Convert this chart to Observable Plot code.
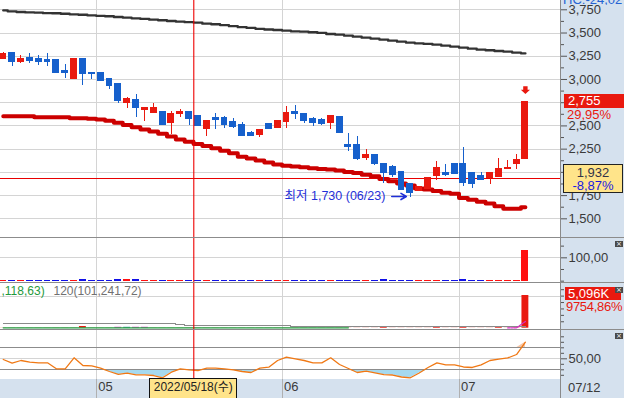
<!DOCTYPE html>
<html lang="ko">
<head>
<meta charset="utf-8">
<script src="https://cdn.jsdelivr.net/npm/d3@7"></script>
<script src="https://cdn.jsdelivr.net/npm/@observablehq/plot@0.6"></script>
<style>
html,body{margin:0;padding:0;background:#fff;}
#chart{position:relative;width:624px;height:398px;overflow:hidden;background:#fff;font-family:"Liberation Sans",Arial,sans-serif;}
.pane{position:absolute;left:0;}
.abs{position:absolute;white-space:nowrap;line-height:1;}
.xbtn{position:absolute;left:615px;width:8px;height:6px;background:#4a4a4a;color:#fff;font-size:7px;line-height:6px;text-align:center;font-family:"DejaVu Sans",sans-serif;}
</style>
</head>
<body>
<div id="chart"></div>
<script>
// ---------------- data (index 0 = 2022-05-02, first visible candle = index -11) ----------------
const startIndex = -11;
const open  = [3225,3280,3190,3235,3225,3205,3205,3095,3010,3215,3065, 3065,3000,2955,2745,2775,2670,2635,2645,2535,2625, 2655,2605,2470,2580,2580,2540,2505,2420,2400,2525, 2475,2540,2645,2625,2570,2560,2530,2595,2290,2290, 2150,2185,2095,2055,2000,1870,1795,1825,1965,1990, 2095,2085,1990,1965,1935,1955,2035,2085,2140];
const high  = [3285,3280,3255,3280,3255,3280,3205,3160,3230,3215,3065, 3065,3000,2955,2810,2835,2690,2745,2645,2655,2680, 2655,2615,2555,2635,2605,2580,2540,2440,2465,2530, 2555,2710,2720,2635,2595,2585,2605,2595,2420,2390, 2250,2185,2095,2075,2000,1870,1845,1945,2115,2085, 2095,2270,1990,1995,1990,2150,2125,2195,2755];
const low   = [3210,3140,3175,3175,3150,3140,3075,3010,3010,2935,3000, 2980,2895,2745,2690,2595,2550,2635,2505,2405,2595, 2505,2495,2390,2465,2475,2475,2390,2390,2375,2465, 2475,2475,2570,2530,2495,2500,2465,2420,2225,2125, 2125,2075,1880,1945,1805,1730,1795,1825,1910,1960, 1980,1845,1825,1910,1870,1955,2035,2035,2140];
const close = [3275,3190,3225,3195,3190,3190,3075,3075,3215,3055,3055, 2980,2935,2765,2795,2690,2690,2690,2505,2625,2645, 2570,2495,2555,2560,2515,2485,2390,2390,2455,2465, 2550,2640,2630,2550,2530,2520,2605,2420,2270,2140, 2185,2095,1990,1970,1805,1780,1845,1935,2050,1975, 1980,1890,1880,1920,1990,2040,2050,2130,2755];
// price moving averages
const maLong  = [3744,3733,3727,3722,3720,3714,3712,3707,3701,3696,3690, 3685,3680,3673,3666,3658,3652,3644,3637,3630,3623, 3617,3612,3601,3594,3585,3574,3563,3555,3545,3538, 3533,3526,3518,3515,3508,3501,3490,3483,3472,3461, 3450,3440,3429,3418,3407,3397,3389,3383,3375,3364, 3354,3343,3332,3321,3314,3307,3300,3289,3281];
const maMid   = [2603,2603,2603,2603,2593,2593,2593,2593,2582,2582,2578, 2568,2557,2535,2511,2485,2462,2440,2415,2385,2355, 2330,2305,2285,2260,2232,2205,2168,2148,2128,2105, 2085,2070,2063,2055,2045,2037,2030,2020,2005,1992, 1975,1958,1930,1905,1880,1858,1826,1815,1800,1780, 1770,1725,1705,1685,1665,1635,1608,1608,1624];
// upper sub-panel indicator
const indicator = [4,4,4,4,4,4,4,4,4,9,4, 4,4,9,9,9,4,4,4,4,4, 4,4,4,4,4,4,4,4,4,4, 4,4,4,4,4,4,4,4,4,4, 4,4,9,4,4,4,4,4,4,4, 4,9,4,4,4,4,4,4,131];
// volume (K shares) and its averages
const volume = [20,20,20,20,20,20,20,20,20,260,20, 20,20,140,140,140,140,20,20,20,20, 20,20,20,20,20,20,20,20,20,20, 20,20,20,20,20,20,20,20,20,20, 20,20,260,20,20,20,20,20,260,20, 20,260,20,20,20,260,20,52,5096];
const volumeKind = {2:"m", 3:"t", 4:"m", 5:"m"};
const volMaLong  = [690,690,690,690,690,690,690,690,690,690,690, 690,690,690,690,690,690,690,690,690,535, 380,380,380,380,380,380,380,380,380,380, 380,380,220,220,220,220,220,220,220,220, 220,220,220,220,220,220,220,220,220,220, 220,220,220,220,220,220,220,220,220];
const volMaMid   = [60,60,60,60,60,60,60,60,60,60,60, 60,60,60,60,60,60,60,60,60,60, 60,60,60,60,60,60,60,60,60,60, 60,60,60,60,60,60,60,60,60,null, null,null,null,null,null,null,null,null,null,null, null,null,null,null,null,null,null,null,null];
const volMaShort = [null,null,null,null,null,null,null,null,null,null,null, null,null,null,null,null,null,null,null,null,null, null,null,null,null,null,null,null,null,null,null, null,null,null,null,null,null,null,null,null,null, null,null,null,null,null,null,null,null,null,null, null,null,null,null,null,null,50,52,1060];
// oscillator
const rsi = [48.7,42,46.9,43.8,42.7,42.7,31.8,31.8,51.8,37.8,37.3, 32.9,26.9,21.5,23.8,20.9,20.9,19.6,15.5,25.6,31.8, 30,28.7,32.9,32.9,31.5,30,26.9,25.1,32.9,34.7, 46.9,52.9,50,46.9,42.7,42.7,51.8,39.6,32.4,25.1, 27.5,24.2,21.1,20.5,16.9,15.5,24.2,34.2,42.7,39.1, 39.1,35.1,34.2,39.1,46.9,49.3,51.5,57.8,80.2];

const priceTicks = [1500,1750,2000,2250,2500,2750,3000,3250,3500,3750];
const priceMinor = [1625,1875,2125,2375,2625,2875,3125,3375,3625];
const monthTicks = [-0.5, 20.5, 40.5];
const monthLabels = ["05","06","07"];
const lastDateLabel = "07/12";
const crossIndex = 10.53;
const crossDate = "2022/05/18(수)";
const refPrice = 1932, refPct = "-8,87%";
const lastPct = "29,95%";
const volLabel = "5,096K", volPct = "9754,86%";
const topInfo = "HC:-24,02";
const lowDate = "06/23";
const legendA = ",118,63)", legendB = "120(101,241,72)";
const indTick = [100], indMinor = [0, 50, 150];
const volGrid = [5000], volMinor = [1000,2000,3000,4000,6000];
const rsiMid = [50], rsiBands = [30, 70], rsiMinor = [20,40,60,80,90];

// ---------------- build ----------------
const candles = open.map((o, k) => ({i: startIndex + k, open: o, high: high[k], low: low[k], close: close[k],
  maLong: maLong[k], maMid: maMid[k], ind: indicator[k], vol: volume[k], kind: volumeKind[startIndex + k] || "r",
  vL: volMaLong[k], vM: volMaMid[k], vS: volMaShort[k], rsi: rsi[k]}));
const last = candles[candles.length - 1];
const lowPoint = candles.reduce((a, b) => b.low < a.low ? b : a);

const W = 624, MR = 64;
const xDomain = [-11.311, 51.966];
const RED = "#e9190f", BLUE = "#1660cc", GRID = "#d4d4d4", PANEL = "#d5e1ee", CROSS = "#ee0000";
const AXFONT = '"Liberation Sans Narrow","Liberation Sans",Arial,sans-serif';
const up = d => d.close >= d.open;
const fmt = d3.format(",");
const dec = v => v.toFixed(2).replace(".", ",");

const root = document.getElementById("chart");
function div(css, html, cls) { const e = document.createElement("div"); e.className = cls || "abs"; e.style.cssText = css; if (html != null) e.innerHTML = html; root.appendChild(e); return e; }

// background column and bottom band
div(`left:561px;top:0;width:63px;height:398px;background:${PANEL};`);
div(`left:0;top:379px;width:624px;height:19px;background:${PANEL};`);

function pane(top, plot) { const d = document.createElement("div"); d.className = "pane"; d.style.top = top + "px"; d.appendChild(plot); root.appendChild(d); return plot; }
const base = (height, y, marks) => Plot.plot({
  width: W, height, marginLeft: 0, marginRight: MR, marginTop: 0, marginBottom: 0,
  x: {domain: xDomain, axis: null}, y: {...y, label: null}, color: {type: "identity"},
  style: {background: "transparent", fontFamily: AXFONT, fontSize: "13px", color: "#3a3a3a", overflow: "hidden"},
  marks
});
const cross = () => Plot.ruleX([crossIndex], {stroke: CROSS, strokeWidth: 1.1});
const vgrid = () => Plot.gridX(monthTicks, {stroke: GRID, strokeOpacity: 1, shapeRendering: "crispEdges"});
const minorAxis = ticks => Plot.axisY({ticks, anchor: "right", tickSize: 3, tickFormat: () => "", stroke: "#555", label: null});
const majorAxis = (ticks, f) => Plot.axisY({ticks, anchor: "right", tickSize: 6, tickPadding: 2, tickFormat: f, fontSize: 13, stroke: "#555", fill: "#3a3a3a", label: null});

const marker = {draw(ctx) { ctx.moveTo(-2.2,-16); ctx.lineTo(2.2,-16); ctx.lineTo(2.2,-12.5); ctx.lineTo(4.6,-12.5); ctx.lineTo(0,-8.3); ctx.lineTo(-4.6,-12.5); ctx.lineTo(-2.2,-12.5); ctx.closePath(); }};

// main price panel
const main = pane(0, base(237, {domain: [1299, 3850]}, [
  Plot.gridY(priceTicks, {stroke: GRID, strokeOpacity: 1, shapeRendering: "crispEdges"}),
  vgrid(),
  Plot.ruleY([refPrice], {stroke: "#e80000", strokeWidth: 1, shapeRendering: "crispEdges"}),
  Plot.line(candles, {x: "i", y: "maLong", stroke: "#333333", strokeWidth: 2.4, curve: "step"}),
  Plot.line(candles, {x: "i", y: "maMid", stroke: "#cc0000", strokeWidth: 4, curve: "step"}),
  Plot.ruleX(candles, {x: "i", y1: "low", y2: "high", stroke: d => up(d) ? RED : BLUE, strokeWidth: 1, shapeRendering: "crispEdges"}),
  Plot.rect(candles, {x1: d => d.i - 0.39, x2: d => d.i + 0.39, y1: "open", y2: "close", fill: d => up(d) ? RED : BLUE, insetTop: -0.5, insetBottom: -0.5, shapeRendering: "crispEdges"}),
  cross(),
  Plot.dot([last], {x: "i", y: "high", symbol: marker, r: 5, fill: RED, stroke: "none"}),
  Plot.text([lowPoint], {x: "i", y: "low", text: d => `최저 ${fmt(d.low)} (${lowDate})`, textAnchor: "end", dx: -25, dy: -1, fill: "#1f2fd8", fontSize: 12.5, fontFamily: '"Liberation Sans","Noto Sans CJK KR",sans-serif'}),
  Plot.arrow([lowPoint], {x1: d => d.i - 2.1, x2: "i", y1: "low", y2: "low", insetEnd: 4, dy: -1, stroke: "#1f2fd8", strokeWidth: 1.6, headLength: 7}),
  minorAxis(priceMinor),
  majorAxis(priceTicks, fmt)
]));

// indicator panel
const p2 = pane(237, base(46, {domain: [-10, 187]}, [
  Plot.gridY(indTick, {stroke: GRID, strokeOpacity: 1, shapeRendering: "crispEdges"}),
  vgrid(),
  Plot.rectY(candles, {x1: d => d.i - 0.39, x2: d => d.i + 0.39, y1: 0, y2: "ind", fill: d => up(d) ? "#ff1010" : "#1010e6", shapeRendering: "crispEdges"}),
  cross(),
  minorAxis(indMinor),
  majorAxis(indTick, dec)
]));

// volume panel
const volColor = {r: RED, m: "#d42cc4", t: "#2a86a2"};
const p3 = pane(283, base(46, {domain: [-203, 6966]}, [
  Plot.gridY(volGrid, {stroke: GRID, strokeOpacity: 1, shapeRendering: "crispEdges"}),
  vgrid(),
  Plot.rectY(candles, {x1: d => d.i - 0.39, x2: d => d.i + 0.39, y1: 0, y2: "vol", fill: d => volColor[d.kind]}),
  Plot.line(candles, {x: "i", y: "vL", stroke: "#8a8a8a", strokeWidth: 1, curve: "step", shapeRendering: "crispEdges"}),
  Plot.line(candles, {x: "i", y: "vM", stroke: "#1f9a3c", strokeWidth: 1.3, curve: "step"}),
  Plot.line(candles, {x: "i", y: "vS", stroke: "#d42cc4", strokeWidth: 1.2, strokeDasharray: "2,1"}),
  Plot.text([legendA], {text: d => d, frameAnchor: "top-left", dx: 1, dy: 3, fill: "#1f9a3c", fontSize: 12, fontFamily: '"Liberation Sans",Arial,sans-serif', textAnchor: "start"}),
  Plot.text([legendB], {text: d => d, frameAnchor: "top-left", dx: 53, dy: 3, fill: "#707070", fontSize: 12, fontFamily: '"Liberation Sans",Arial,sans-serif', textAnchor: "start"}),
  cross(),
  minorAxis(volMinor.concat(volGrid))
]));

// oscillator panel
const p4 = pane(329, base(50, {domain: [12.36, 103.27]}, [
  Plot.gridY(rsiMid, {stroke: GRID, strokeOpacity: 1, shapeRendering: "crispEdges"}),
  vgrid(),
  Plot.areaY(candles, {x: "i", y1: 30, y2: d => Math.min(d.rsi, 30), fill: "#a6d9ef"}),
  Plot.areaY(candles, {x: "i", y1: 70, y2: d => Math.max(d.rsi, 70), fill: "#f6c6a6"}),
  Plot.ruleY(rsiBands, {stroke: "#8c8c8c", strokeWidth: 1, shapeRendering: "crispEdges"}),
  Plot.line(candles, {x: "i", y: "rsi", stroke: "#f07814", strokeWidth: 1.3}),
  cross(),
  minorAxis(rsiMinor.concat(rsiBands)),
  majorAxis(rsiMid, dec)
]));

// time axis band
const monthMarks = monthTicks.map((t, k) => ({i: t, label: monthLabels[k]}));
pane(379, Plot.plot({
  width: W, height: 19, marginLeft: 0, marginRight: MR, marginTop: 0, marginBottom: 0,
  x: {domain: xDomain, axis: null},
  style: {background: "transparent", fontFamily: AXFONT, fontSize: "13px", color: "#3a3a3a", overflow: "hidden"},
  marks: [
    Plot.gridX(monthTicks, {stroke: "#b0b0b0", strokeOpacity: 1, shapeRendering: "crispEdges"}),
    Plot.ruleX([crossIndex], {stroke: CROSS}),
    Plot.text(monthMarks, {x: "i", text: "label", textAnchor: "start", dx: 2, dy: -2, frameAnchor: "middle", fill: "#3a3a3a"})
  ]
}));

// panel separators and right axis line
[237, 282, 329].forEach(t => div(`left:0;top:${t}px;width:624px;height:1px;background:#8c8c8c;`));
div(`left:560px;top:0;width:1px;height:398px;background:#8a8a8a;`);

// readouts
const yMain = main.scale("y"), xMain = main.scale("x");
const yVol = p3.scale("y");
div(`left:563px;top:-7px;width:61px;height:12px;overflow:hidden;background:${PANEL};color:#2563d3;font-size:13px;font-family:${AXFONT};`, topInfo);
const yLast = yMain.apply(last.close);
div(`left:564px;top:${yLast - 7.5}px;width:60px;height:14px;background:${RED};color:#fff;font-size:13px;font-family:${AXFONT};padding-left:4px;box-sizing:border-box;line-height:14px;`, fmt(last.close));
div(`left:567px;top:${yLast + 6.5}px;color:${RED};font-size:13px;font-family:${AXFONT};`, lastPct);
const yRef = yMain.apply(refPrice);
div(`left:563px;top:${yRef - 14.5}px;width:60px;height:29px;background:#ffe48a;border:1px solid #222;box-sizing:border-box;text-align:center;font-size:13px;font-family:${AXFONT};line-height:13px;padding-top:1px;`,
  `<span style="color:#333348">${fmt(refPrice)}</span><br><span style="color:#1a1ae0">${refPct}</span>`);
const yV = 283 + yVol.apply(5096);
div(`left:565px;top:${yV - 7.5}px;width:56px;height:13px;background:${RED};color:#fff;font-size:13px;font-family:${AXFONT};padding-left:3px;box-sizing:border-box;line-height:13px;`, volLabel);
div(`left:566px;top:${yV + 5.5}px;color:${RED};font-size:13px;letter-spacing:-0.3px;font-family:${AXFONT};`, volPct);
div(`left:568px;top:381px;color:#3a3a3a;font-size:13px;font-family:${AXFONT};`, lastDateLabel);
const xc = xMain.apply(crossIndex);
div(`left:${xc - 44}px;top:378px;width:88px;height:21px;background:#ffe48a;border:1.5px solid #111;box-sizing:border-box;text-align:center;font-size:12px;line-height:17px;color:#222;font-family:"Liberation Sans","Noto Sans CJK KR",sans-serif;`, crossDate);
[241, 287, 333].forEach(t => div(`top:${t}px;`, "×", "xbtn"));
</script>
</body>
</html>
